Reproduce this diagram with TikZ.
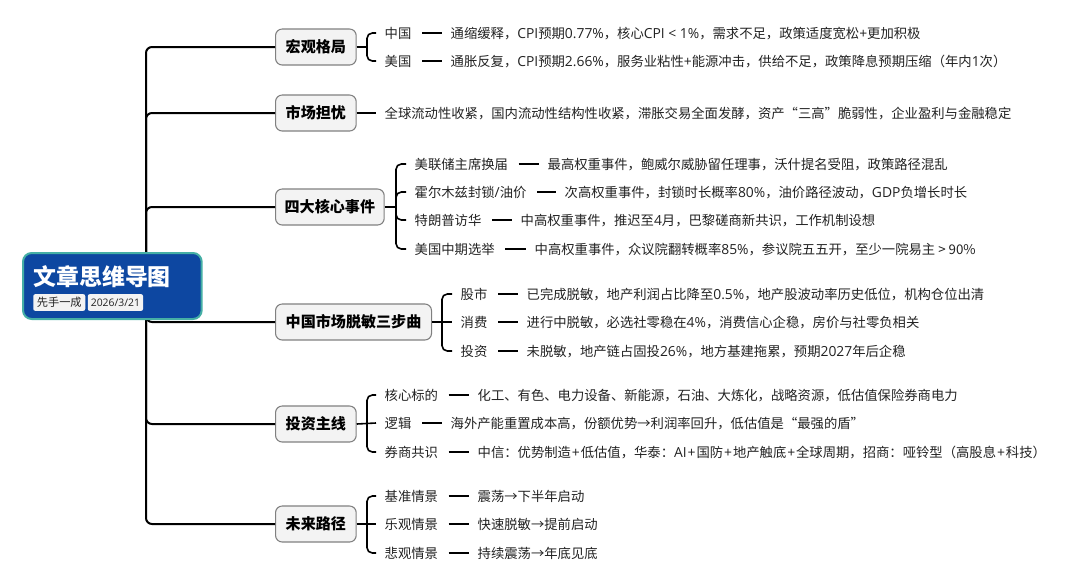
\documentclass[tikz,border=0pt]{standalone}
\usepackage{fontspec}
\setmainfont{Open Sans}
\newfontfamily\cjkf{Noto Sans CJK SC}
\newfontfamily\latf{Open Sans}
\newcount\cc
\newXeTeXintercharclass\cjkclass
\newcommand\setcls[2]{\cc=#1\relax\loop\XeTeXcharclass\cc=\cjkclass\relax\ifnum\cc<#2\advance\cc by 1\repeat}
\setcls{"3000}{"303F}
\setcls{"4E00}{"9FFF}
\setcls{"FF00}{"FF5E}
\setcls{"2018}{"201D}
\setcls{"2192}{"2192}
\XeTeXinterchartoks 0 \cjkclass={\cjkf\fontsize{10}{12}\selectfont}
\XeTeXinterchartoks 4095 \cjkclass={\cjkf\fontsize{10}{12}\selectfont}
\XeTeXinterchartoks \cjkclass 0 ={\latf\fontsize{10.4}{12}\selectfont}
\newcommand\leaffont{\XeTeXinterchartokenstate=1\relax\latf\fontsize{10.4}{12}\selectfont}
\newcommand\pl{{\latf\fontsize{10.4}{12}\selectfont\kern.7pt+\kern.7pt}}
\definecolor{rootblue}{HTML}{0D47A1}
\definecolor{rootedge}{HTML}{45AFA5}
\definecolor{topicfill}{HTML}{F3F3F3}
\definecolor{topicedge}{HTML}{808080}
\definecolor{ink}{HTML}{222222}
\tikzset{
  trunk/.style={draw=black,line width=1.5pt,rounded corners=4.5pt},
  brace/.style={draw=black,line width=1.2pt,rounded corners=4pt},
  dashl/.style={draw=black,line width=1.2pt,shorten <=1.5pt},
  topic/.style={draw=topicedge,fill=topicfill,line width=.8pt,rounded corners=5pt,
    text=black,minimum height=27pt,inner sep=0pt,anchor=west,
    font=\cjkf\bfseries\fontsize{11.3}{13}\selectfont},
  lab/.style={anchor=west,inner sep=0pt,outer xsep=6.5pt,text=ink,text height=10.5pt,text depth=2.5pt,
    font=\leaffont},
  txt/.style={lab},
  tag/.style={fill=topicfill,rounded corners=1.5pt,inner sep=0pt,text=ink,minimum height=12.5pt,anchor=west},
}
\newcommand\leafrow[6]{%
  \node[lab] (#1) at (#2,#3) {#4};
  \node[txt] (#1t) at (#5,#3) {#6};
  \draw[dashl] (#1.east) -- (#1t.west);
}
\begin{document}
\begin{tikzpicture}[x=0.75pt,y=-0.75pt]
\useasboundingbox (0,0) rectangle (1080,586);
\coordinate (sp) at (146,286);

% topics
\node[topic,minimum width=60.5pt] (t1) at (275,47) {宏观格局};
\node[topic,minimum width=60.5pt] (t2) at (275,113) {市场担忧};
\node[topic,minimum width=81.5pt] (t3) at (275,207) {四大核心事件};
\node[topic,minimum width=117pt] (t4) at (275,322) {中国市场脱敏三步曲};
\node[topic,minimum width=60.5pt] (t5) at (275,424) {投资主线};
\node[topic,minimum width=60.5pt] (t6) at (275,524) {未来路径};

% root trunk
\draw[trunk] (sp) |- (t1.west);
\draw[trunk] (sp) |- (t2.west);
\draw[trunk] (sp) |- (t3.west);
\draw[trunk] (sp) |- (t6.west);
\draw[trunk] (sp) |- (t5.west);
\draw[trunk] (sp) |- (t4.west);

% root
\node[draw=rootedge,fill=rootblue,line width=1.5pt,rounded corners=6.5pt,minimum width=134pt,minimum height=49.5pt,inner sep=0pt,anchor=north west] (root) at (22,252) {};
\node[anchor=west,inner sep=0pt,text=white,font=\cjkf\bfseries\fontsize{17.2}{20}\selectfont] (title) at (33,276.5) {文章思维导图};
\node[tag,minimum width=39pt,font=\cjkf\fontsize{8.4}{10}\selectfont] (tagA) at (33,302.5) {先手一成};
\node[tag,minimum width=41.5pt,font=\latf\fontsize{7.8}{10}\selectfont] (tagB) at (87.5,302.5) {2026/3/21};

% group 1
\leafrow{a}{376}{33}{中国}{442}{通缩缓释，CPI预期0.77\%，核心CPI < 1\%，需求不足，政策适度宽松+更加积极}
\leafrow{b}{376}{61}{美国}{442}{通胀反复，CPI预期2.66\%，服务业粘性+能源冲击，供给不足，政策降息预期压缩（年内1次）}
\coordinate (b1) at (367,47);
\draw[brace] (t1.east) -- (b1);
\draw[brace] (a.west) -| (b1) |- (b.west);

% group 2
\node[txt] (c) at (376,113) {全球流动性收紧，国内流动性结构性收紧，滞胀交易全面发酵，资产“三高”脆弱性，企业盈利与金融稳定};
\draw[brace] (t2.east) -- (c.west);

% group 3
\leafrow{d}{406}{164}{美联储主席换届}{539}{最高权重事件，鲍威尔威胁留任理事，沃什提名受阻，政策路径混乱}
\leafrow{e}{406}{192}{霍尔木兹封锁/油价}{556}{次高权重事件，封锁时长概率80\%，油价路径波动，GDP负增长时长}
\leafrow{f}{406}{220}{特朗普访华}{512}{中高权重事件，推迟至4月，巴黎磋商新共识，工作机制设想}
\leafrow{g}{406}{249}{美国中期选举}{526}{中高权重事件，众议院翻转概率85\%，参议院五五开，至少一院易主 > 90\%}
\coordinate (b3) at (396,207);
\draw[brace] (t3.east) -- (b3);
\draw[brace] (d.west) -| (b3) |- (g.west);
\draw[brace] (e.west) -| (b3);
\draw[brace] (f.west) -| (b3);

% group 4
\leafrow{h}{452}{294}{股市}{518}{已完成脱敏，地产利润占比降至0.5\%，地产股波动率历史低位，机构仓位出清}
\leafrow{i}{452}{322}{消费}{518}{进行中脱敏，必选社零稳在4\%，消费信心企稳，房价与社零负相关}
\leafrow{j}{452}{351}{投资}{518}{未脱敏，地产链占固投26\%，地方基建拖累，预期2027年后企稳}
\coordinate (b4) at (442,322);
\draw[brace] (t4.east) -- (i.west);
\draw[brace] (h.west) -| (b4) |- (j.west);

% group 5
\leafrow{k}{376}{395}{核心标的}{469}{化工、有色、电力设备、新能源，石油、大炼化，战略资源，低估值保险券商电力}
\leafrow{l}{376}{423}{逻辑}{442}{海外产能重置成本高，份额优势→利润率回升，低估值是“最强的盾”}
\leafrow{m}{376}{452}{券商共识}{469}{中信：优势制造\pl 低估值，华泰：AI\pl 国防\pl 地产触底\pl 全球周期，招商：哑铃型（高股息\pl 科技）}
\coordinate (b5) at (367,424);
\draw[brace] (t5.east) -- (l.west);
\draw[brace] (k.west) -| (b5) |- (m.west);

% group 6
\leafrow{n}{376}{496}{基准情景}{469}{震荡→下半年启动}
\leafrow{o}{376}{524}{乐观情景}{469}{快速脱敏→提前启动}
\leafrow{p}{376}{553}{悲观情景}{469}{持续震荡→年底见底}
\coordinate (b6) at (367,524);
\draw[brace] (t6.east) -- (o.west);
\draw[brace] (n.west) -| (b6) |- (p.west);
\end{tikzpicture}
\end{document}
